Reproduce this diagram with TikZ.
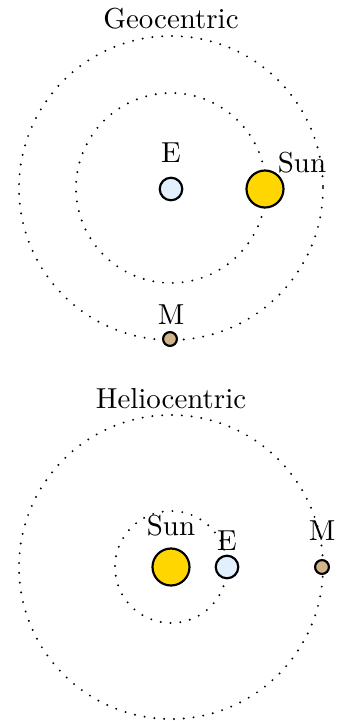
\documentclass[tikz,border=0pt]{standalone}
\begin{document}
\begin{tikzpicture}[x=0.346pt,y=-0.346pt,
  orbit/.style={line width=0.75pt,dash pattern=on 0pt off 3.4pt,line cap=round},
  body/.style={circle,draw=black,line width=0.75pt,inner sep=0pt},
  earth/.style={body,fill=earthblue,minimum size=7.8pt},
  sunbody/.style={body,fill=sungold,minimum size=12.8pt},
  mars/.style={body,fill=marstan,minimum size=4.8pt},
  lbl/.style={anchor=base,inner sep=0pt}]
\definecolor{earthblue}{RGB}{226,240,253}
\definecolor{sungold}{RGB}{255,214,0}
\definecolor{marstan}{RGB}{210,180,140}
\useasboundingbox (0,0) rectangle (337,721);
% Geocentric
\coordinate (gc) at (171,188);
\draw[orbit] (gc) circle[radius=95];
\draw[orbit] (gc) circle[radius=152];
\node[lbl] (gt) at (171,28) {Geocentric};
\node[earth] (gE) at (171,189) {};
\node[sunbody] (gS) at (265,189) {};
\node[mars] (gM) at (170,339) {};
\node[lbl] (gEl) at (171,162) {E};
\node[lbl] (gSl) at (302,172) {Sun};
\node[lbl] (gMl) at (171,324) {M};
% Heliocentric
\coordinate (hc) at (171,567);
\draw[orbit] (hc) circle[radius=56];
\draw[orbit] (hc) circle[radius=152];
\node[lbl] (ht) at (171,408) {Heliocentric};
\node[sunbody] (hS) at (171,567) {};
\node[earth] (hE) at (227,567) {};
\node[mars] (hM) at (322,567) {};
\node[lbl] (hSl) at (171,535) {Sun};
\node[lbl] (hEl) at (227,550) {E};
\node[lbl] (hMl) at (322,540) {M};
\end{tikzpicture}
\end{document}
